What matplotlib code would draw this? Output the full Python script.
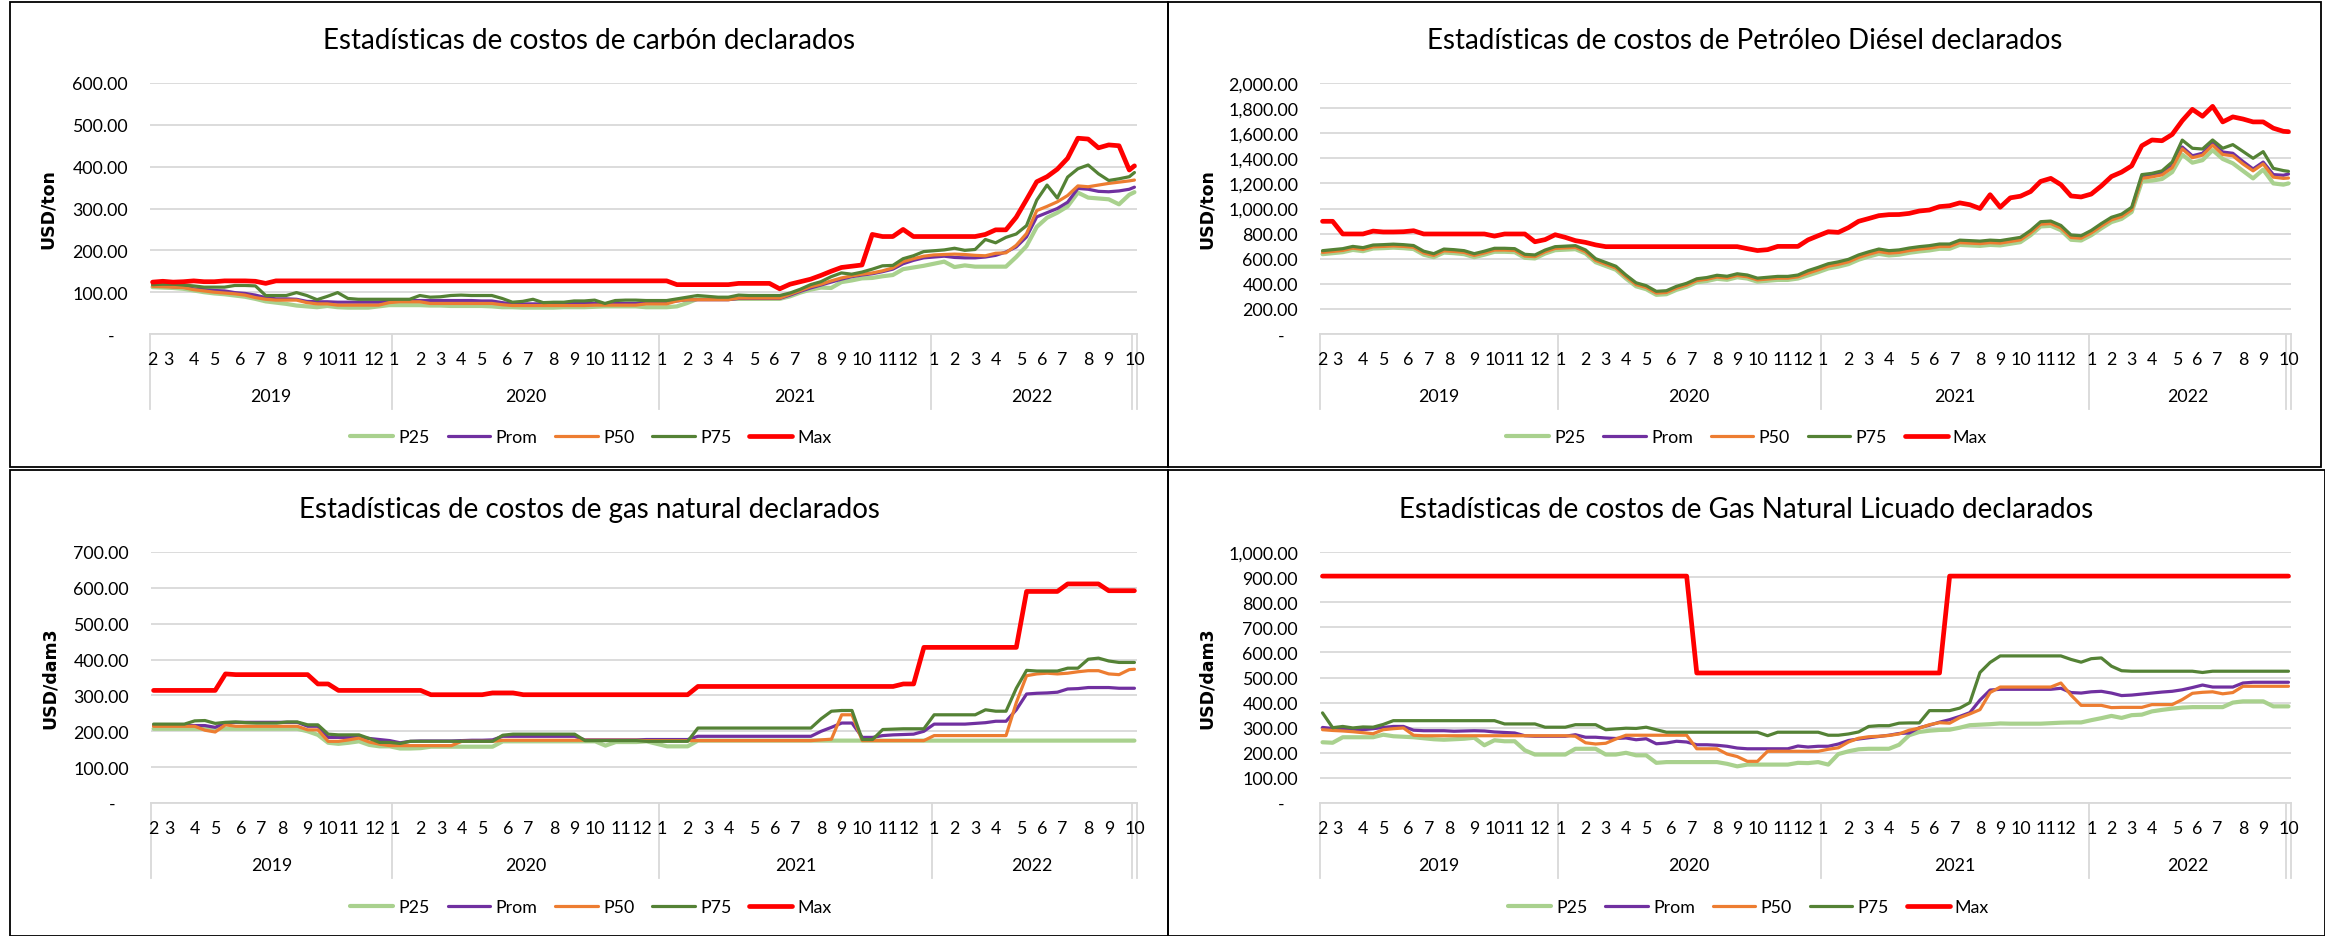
import numpy as np
import pandas as pd
import matplotlib
matplotlib.use("Agg")
import matplotlib.pyplot as plt
from matplotlib.patches import Rectangle
from matplotlib.ticker import FuncFormatter

plt.rcParams["font.family"] = ["Lato", "DejaVu Sans"]

# weekly reporting dates on the category axis (one per Friday)
DATES = pd.date_range("2019-02-08", "2022-10-07", freq="W-FRI")
# values every second week, plus the last week
SAMPLE = list(range(0, len(DATES), 2)) + [len(DATES) - 1]

SERIES = ["P25", "Prom", "P50", "P75", "Max"]
COLORS = {"P25": "#A9D18E", "Prom": "#7030A0", "P50": "#ED7D31",
          "P75": "#548235", "Max": "#FF0000"}
WIDTHS = {"P25": 3.0, "Prom": 2.3, "P50": 2.3, "P75": 2.3, "Max": 3.4}

# --- carbón (USD/ton)
COAL_P25 = [112, 111, 110, 108, 104, 100, 97, 95, 92, 89,
            84, 78, 75, 72, 68, 66, 64, 67, 64, 63,
            63, 63, 66, 69, 69, 69, 69, 68, 68, 67,
            67, 67, 67, 66, 64, 64, 63, 63, 63, 63,
            64, 64, 64, 65, 66, 66, 66, 66, 64, 64,
            64, 66, 74, 84, 84, 84, 84, 84, 84, 84,
            84, 84, 90, 99, 106, 111, 110, 124, 128, 133,
            134, 138, 141, 155, 159, 163, 168, 173, 160, 164,
            161, 161, 161, 161, 184, 210, 256, 278, 290, 305,
            338, 326, 324, 322, 310, 333, 339]
COAL_PROM = [116, 115, 113, 112, 108, 106, 104, 103, 99, 97,
             93, 87, 84, 84, 83, 78, 77, 77, 76, 76,
             76, 76, 76, 79, 80, 80, 80, 80, 80, 80,
             80, 80, 79, 79, 75, 72, 72, 72, 72, 72,
             73, 73, 73, 73, 72, 73, 73, 73, 76, 76,
             76, 79, 82, 82, 82, 82, 82, 85, 85, 85,
             85, 85, 93, 102, 110, 117, 124, 131, 137, 141,
             144, 149, 155, 168, 176, 182, 184, 186, 183, 182,
             182, 184, 188, 196, 208, 232, 280, 290, 300, 315,
             348, 346, 341, 340, 342, 346, 351]
COAL_P50 = [114, 113, 112, 111, 106, 103, 100, 98, 96, 93,
            87, 83, 81, 81, 81, 75, 72, 72, 69, 69,
            69, 69, 69, 75, 77, 77, 77, 73, 73, 73,
            73, 73, 73, 73, 70, 68, 68, 68, 68, 68,
            68, 68, 68, 69, 69, 69, 69, 69, 72, 72,
            72, 79, 82, 82, 82, 82, 82, 86, 86, 86,
            86, 86, 95, 104, 113, 119, 127, 134, 139, 143,
            146, 151, 158, 173, 180, 186, 189, 190, 191, 190,
            188, 187, 193, 194, 212, 240, 295, 305, 316, 331,
            354, 352, 356, 360, 363, 366, 368]
COAL_P75 = [118, 119, 119, 117, 115, 112, 112, 112, 116, 116,
            115, 92, 92, 92, 99, 92, 82, 90, 99, 85,
            83, 83, 83, 83, 83, 83, 92, 88, 89, 92,
            93, 92, 92, 92, 85, 76, 78, 83, 75, 76,
            76, 79, 79, 81, 73, 80, 81, 81, 80, 80,
            80, 84, 88, 92, 90, 88, 88, 93, 92, 92,
            92, 92, 98, 107, 118, 125, 137, 146, 143, 148,
            155, 163, 164, 180, 187, 197, 199, 201, 205, 200,
            202, 226, 218, 231, 239, 259, 320, 356, 325, 375,
            395, 404, 383, 367, 371, 376, 386]
COAL_MAX = [124, 126, 124, 125, 127, 125, 125, 127, 127, 127,
            126, 121, 127, 127, 127, 127, 127, 127, 127, 127,
            127, 127, 127, 127, 127, 127, 127, 127, 127, 127,
            127, 127, 127, 127, 127, 127, 127, 127, 127, 127,
            127, 127, 127, 127, 127, 127, 127, 127, 127, 127,
            127, 118, 118, 118, 118, 118, 118, 121, 121, 121,
            121, 108, 119, 125, 131, 140, 150, 159, 162, 165,
            238, 233, 233, 250, 233, 233, 233, 233, 233, 233,
            233, 238, 249, 249, 279, 321, 364, 376, 394, 420,
            468, 466, 445, 452, 450, 392, 402]

# --- petróleo diésel (USD/ton)
DIESEL_P25 = [636, 644, 652, 670, 660, 681, 684, 688, 684, 677,
              632, 612, 649, 644, 636, 612, 632, 655, 655, 652,
              607, 602, 641, 668, 672, 676, 642, 572, 542, 512,
              442, 380, 357, 312, 317, 352, 376, 412, 422, 440,
              432, 452, 442, 417, 424, 431, 431, 442, 467, 493,
              522, 537, 557, 592, 617, 639, 626, 632, 647, 658,
              666, 679, 679, 710, 706, 702, 710, 706, 719, 732,
              787, 857, 862, 827, 751, 745, 787, 842, 892, 917,
              972, 1215, 1222, 1235, 1290, 1430, 1365, 1385, 1465, 1395,
              1360, 1300, 1240, 1310, 1200, 1190, 1200]
DIESEL_PROM = [656, 664, 672, 690, 680, 701, 704, 708, 704, 697,
               652, 632, 669, 664, 656, 632, 652, 675, 675, 672,
               627, 622, 661, 688, 692, 696, 662, 592, 562, 532,
               462, 400, 377, 332, 337, 372, 396, 432, 442, 460,
               452, 472, 462, 437, 444, 451, 451, 462, 495, 521,
               550, 565, 585, 620, 645, 667, 654, 660, 675, 686,
               694, 707, 707, 738, 734, 730, 738, 734, 747, 760,
               815, 885, 890, 855, 779, 773, 815, 870, 920, 945,
               1000, 1250, 1262, 1280, 1340, 1490, 1420, 1440, 1520, 1450,
               1440, 1375, 1315, 1370, 1270, 1265, 1275]
DIESEL_P50 = [650, 658, 666, 684, 674, 695, 698, 702, 698, 691,
              646, 626, 663, 658, 650, 626, 646, 669, 669, 666,
              621, 616, 655, 682, 686, 690, 656, 586, 556, 526,
              456, 394, 371, 326, 331, 366, 390, 426, 436, 454,
              446, 466, 456, 431, 438, 445, 445, 456, 485, 511,
              540, 555, 575, 610, 635, 657, 644, 650, 665, 676,
              684, 697, 697, 728, 724, 720, 728, 724, 737, 750,
              805, 875, 880, 845, 769, 763, 805, 860, 910, 935,
              990, 1240, 1252, 1268, 1325, 1475, 1405, 1425, 1505, 1430,
              1420, 1355, 1300, 1355, 1250, 1240, 1243]
DIESEL_P75 = [664, 672, 680, 698, 688, 709, 712, 716, 712, 705,
              660, 640, 677, 672, 664, 640, 660, 683, 683, 680,
              635, 630, 669, 696, 700, 704, 670, 600, 570, 540,
              470, 408, 385, 340, 345, 380, 404, 440, 450, 468,
              460, 480, 470, 445, 452, 459, 459, 470, 505, 531,
              560, 575, 595, 630, 655, 677, 664, 670, 685, 696,
              704, 717, 717, 748, 744, 740, 748, 744, 757, 770,
              825, 895, 900, 865, 789, 783, 825, 880, 930, 955,
              1010, 1270, 1280, 1300, 1370, 1545, 1480, 1474, 1546, 1480,
              1509, 1455, 1400, 1453, 1320, 1302, 1296]
DIESEL_MAX = [898, 898, 797, 797, 797, 820, 813, 813, 815, 823,
              797, 797, 797, 797, 797, 797, 797, 780, 797, 797,
              797, 735, 752, 791, 770, 744, 730, 710, 696, 696,
              696, 696, 696, 696, 696, 696, 696, 696, 696, 696,
              696, 696, 680, 665, 672, 698, 698, 698, 750, 783,
              815, 810, 848, 898, 920, 943, 951, 952, 961, 980,
              988, 1015, 1022, 1045, 1030, 1000, 1110, 1010, 1085, 1098,
              1135, 1216, 1240, 1190, 1100, 1092, 1115, 1180, 1255, 1290,
              1340, 1500, 1546, 1540, 1590, 1700, 1790, 1735, 1814, 1690,
              1730, 1713, 1690, 1690, 1640, 1615, 1612]

# --- gas natural (USD/dam3)
GAS_P25 = [207, 207, 207, 207, 207, 207, 207, 207, 207, 207,
           207, 207, 207, 207, 207, 200, 190, 168, 165, 168,
           172, 162, 158, 158, 152, 152, 153, 157, 157, 157,
           157, 157, 157, 157, 172, 172, 172, 172, 172, 172,
           172, 172, 172, 172, 160, 170, 170, 170, 172, 165,
           158, 158, 158, 174, 174, 174, 174, 174, 174, 174,
           174, 174, 174, 174, 174, 174, 174, 174, 174, 174,
           174, 174, 174, 174, 174, 174, 174, 174, 174, 174,
           174, 174, 174, 174, 174, 174, 174, 174, 174, 174,
           174, 174, 174, 174, 174, 174, 174]
GAS_PROM = [216, 216, 216, 216, 216, 216, 211, 224, 225, 225,
            225, 225, 225, 225, 225, 214, 214, 183, 183, 183,
            183, 180, 177, 174, 168, 172, 173, 173, 173, 173,
            174, 175, 175, 176, 186, 186, 186, 186, 186, 186,
            186, 186, 176, 176, 176, 176, 176, 176, 177, 177,
            177, 177, 177, 186, 186, 186, 186, 186, 186, 186,
            186, 186, 186, 186, 186, 200, 211, 223, 223, 183,
            183, 188, 190, 191, 192, 200, 220, 220, 220, 220,
            222, 224, 228, 228, 260, 304, 306, 307, 309, 318,
            319, 322, 322, 322, 320, 320, 320]
GAS_P50 = [214, 214, 214, 214, 214, 203, 198, 218, 214, 214,
           214, 214, 214, 214, 214, 204, 204, 172, 172, 176,
           181, 170, 164, 160, 160, 160, 160, 160, 160, 160,
           172, 172, 172, 172, 175, 175, 175, 175, 175, 175,
           175, 175, 175, 175, 175, 175, 175, 175, 174, 174,
           174, 174, 174, 174, 174, 174, 174, 174, 174, 174,
           174, 174, 174, 174, 174, 176, 178, 246, 246, 174,
           174, 174, 174, 174, 174, 174, 188, 188, 188, 188,
           188, 188, 188, 188, 280, 355, 360, 362, 360, 362,
           366, 369, 369, 360, 358, 372, 373]
GAS_P75 = [220, 220, 220, 220, 229, 230, 222, 225, 226, 224,
           223, 223, 223, 226, 226, 218, 218, 192, 190, 190,
           190, 180, 169, 169, 166, 172, 172, 172, 172, 172,
           172, 172, 172, 172, 189, 192, 192, 192, 192, 192,
           192, 192, 174, 174, 174, 174, 174, 174, 172, 172,
           172, 172, 172, 209, 209, 209, 209, 209, 209, 209,
           209, 209, 209, 209, 209, 235, 256, 258, 258, 177,
           177, 205, 206, 207, 207, 207, 246, 246, 246, 246,
           246, 260, 256, 256, 320, 370, 368, 368, 368, 376,
           376, 401, 404, 396, 392, 392, 392]
GAS_MAX = [314, 314, 314, 314, 314, 314, 314, 360, 358, 358,
           358, 358, 358, 358, 358, 358, 332, 332, 314, 314,
           314, 314, 314, 314, 314, 314, 314, 302, 302, 302,
           302, 302, 302, 307, 307, 307, 302, 302, 302, 302,
           302, 302, 302, 302, 302, 302, 302, 302, 302, 302,
           302, 302, 302, 325, 325, 325, 325, 325, 325, 325,
           325, 325, 325, 325, 325, 325, 325, 325, 325, 325,
           325, 325, 325, 332, 332, 434, 434, 434, 434, 434,
           434, 434, 434, 434, 434, 590, 590, 590, 590, 611,
           611, 611, 611, 592, 592, 592, 592]

# --- gas natural licuado (USD/dam3)
LNG_P25 = [242, 240, 262, 262, 262, 262, 272, 266, 264, 262,
           258, 254, 252, 254, 256, 260, 230, 250, 246, 246,
           210, 193, 193, 193, 193, 216, 216, 216, 193, 193,
           200, 190, 190, 160, 163, 163, 163, 163, 163, 163,
           156, 146, 153, 153, 153, 153, 153, 160, 159, 163,
           153, 195, 206, 214, 216, 216, 216, 232, 270, 283,
           288, 291, 292, 300, 310, 312, 314, 317, 316, 316,
           316, 316, 318, 320, 321, 321, 330, 338, 347, 339,
           350, 352, 365, 371, 376, 380, 382, 382, 382, 382,
           400, 405, 405, 405, 385, 385, 385]
LNG_PROM = [301, 297, 295, 294, 292, 296, 301, 305, 305, 290,
            288, 288, 288, 286, 287, 288, 287, 283, 281, 279,
            268, 266, 266, 266, 266, 272, 262, 262, 259, 257,
            259, 252, 256, 236, 239, 246, 243, 232, 232, 230,
            226, 219, 216, 216, 216, 216, 216, 227, 223, 226,
            226, 235, 249, 255, 260, 265, 270, 277, 279, 300,
            310, 322, 332, 345, 360, 410, 450, 453, 453, 453,
            453, 453, 453, 457, 440, 438, 443, 445, 438, 428,
            430, 434, 438, 442, 445, 451, 460, 470, 462, 462,
            462, 478, 481, 481, 481, 481, 481]
LNG_P50 = [292, 289, 287, 284, 280, 276, 292, 296, 299, 270,
           268, 268, 268, 268, 268, 268, 268, 268, 268, 268,
           268, 268, 268, 268, 268, 266, 240, 235, 238, 255,
           270, 270, 270, 270, 270, 270, 270, 216, 216, 216,
           195, 185, 166, 166, 206, 206, 206, 206, 206, 206,
           214, 220, 243, 258, 264, 266, 269, 275, 290, 298,
           312, 320, 318, 340, 355, 372, 440, 462, 462, 462,
           462, 462, 462, 478, 430, 389, 389, 389, 380, 381,
           381, 381, 392, 392, 392, 412, 437, 441, 443, 435,
           440, 465, 465, 465, 465, 465, 465]
LNG_P75 = [359, 300, 305, 299, 303, 302, 313, 328, 328, 328,
           328, 328, 328, 328, 328, 328, 328, 328, 315, 315,
           315, 315, 302, 302, 302, 312, 312, 312, 292, 295,
           298, 297, 302, 292, 282, 282, 282, 282, 282, 282,
           282, 282, 282, 282, 268, 282, 282, 282, 282, 282,
           270, 270, 275, 283, 305, 308, 308, 318, 319, 319,
           368, 368, 368, 378, 400, 520, 560, 586, 586, 586,
           586, 586, 586, 586, 572, 561, 575, 578, 545, 527,
           525, 525, 525, 525, 525, 525, 525, 520, 525, 525,
           525, 525, 525, 525, 525, 525, 525]
LNG_MAX = [904, 904, 904, 904, 904, 904, 904, 904, 904, 904,
           904, 904, 904, 904, 904, 904, 904, 904, 904, 904,
           904, 904, 904, 904, 904, 904, 904, 904, 904, 904,
           904, 904, 904, 904, 904, 904, 904, 518, 518, 518,
           518, 518, 518, 518, 518, 518, 518, 518, 518, 518,
           518, 518, 518, 518, 518, 518, 518, 518, 518, 518,
           518, 518, 904, 904, 904, 904, 904, 904, 904, 904,
           904, 904, 904, 904, 904, 904, 904, 904, 904, 904,
           904, 904, 904, 904, 904, 904, 904, 904, 904, 904,
           904, 904, 904, 904, 904, 904, 904]

W, H = 2325, 937
fig = plt.figure(figsize=(W / 100, H / 100), dpi=100)


def fx(x):
    return x / W


def fy(y):
    return 1 - y / H


def money(v, pos):
    # Excel accounting format: zero shows as a dash
    if v == 0:
        return "-   "
    return f"{v:,.2f}"


n = len(DATES)
months = DATES.month
years = DATES.year
month_starts = [i for i in range(n) if i == 0 or months[i] != months[i - 1]]
year_starts = [i for i in range(n) if i == 0 or years[i] != years[i - 1]]
# the sheet's last row sits in its own (unlabelled) group
bounds = year_starts + [n - 1, n]


def panel(box, plot, title, title_y, unit, unit_x, legend_y, ymax, step, data):
    x0, y0, x1, y1 = box
    fig.add_artist(Rectangle((fx(x0), fy(y1)), fx(x1) - fx(x0), fy(y0) - fy(y1),
                             fill=False, ec="black", lw=1.3,
                             transform=fig.transFigure))
    px0, py0, px1, py1 = plot
    h = py1 - py0
    ax = fig.add_axes([fx(px0), fy(py1), fx(px1) - fx(px0), fy(py0) - fy(py1)])
    for name, vals in zip(SERIES, data):
        ax.plot(SAMPLE, vals, color=COLORS[name], lw=WIDTHS[name], label=name,
                solid_joinstyle="round", solid_capstyle="round")

    xt = ax.get_xaxis_transform()
    for i in month_starts:
        ax.text(i, -25 / h, str(months[i]), transform=xt, ha="center",
                va="center", fontsize=12.8)
    for k in range(len(year_starts)):
        a, b = bounds[k], bounds[k + 1]
        ax.text((a + b) / 2 - 0.5, -62.5 / h, str(years[a]), transform=xt,
                ha="center", va="center", fontsize=12.8)
    for b in bounds:
        ax.plot([b - 0.5, b - 0.5], [0, -75 / h], transform=xt,
                color="#D9D9D9", lw=1.3, clip_on=False)

    ax.set_xlim(-0.5, n - 0.5)
    ax.set_ylim(0, ymax)
    ax.set_yticks(np.arange(0, ymax + step / 2, step))
    ax.yaxis.set_major_formatter(FuncFormatter(money))
    ax.set_xticks([])
    ax.tick_params(axis="y", length=0, pad=15.8, labelsize=12.8)
    ax.grid(axis="y", color="#D9D9D9", lw=1.3)
    ax.set_axisbelow(True)
    for s in ["top", "right", "left"]:
        ax.spines[s].set_visible(False)
    ax.spines["bottom"].set_color("#D9D9D9")
    ax.spines["bottom"].set_linewidth(1.3)

    cx = (x0 + x1) / 2
    fig.text(fx(cx), fy(title_y), title, ha="center", va="center", fontsize=20)
    fig.text(fx(unit_x), fy((py0 + py1) / 2), unit, rotation=90, ha="center",
             va="center", fontsize=12.5, family="DejaVu Sans", weight="bold")
    handles, labels = ax.get_legend_handles_labels()
    fig.legend(handles, labels, loc="center",
               bbox_to_anchor=(fx(cx + 2), fy(legend_y)), ncol=5,
               frameon=False, fontsize=12.8, handlelength=2.4,
               handletextpad=0.3, columnspacing=1.0, borderpad=0,
               borderaxespad=0)


panel((10, 3, 1168, 468), (150, 84, 1137, 335),
      "Estadísticas de costos de carbón declarados", 41, "USD/ton", 48, 438,
      600, 100, [COAL_P25, COAL_PROM, COAL_P50, COAL_P75, COAL_MAX])
panel((1168, 3, 2321, 468), (1320, 84, 2291, 335),
      "Estadísticas de costos de Petróleo Diésel declarados", 41, "USD/ton",
      1207, 438, 2000, 200,
      [DIESEL_P25, DIESEL_PROM, DIESEL_P50, DIESEL_P75, DIESEL_MAX])
panel((10, 471, 1168, 937), (151, 553, 1137, 804),
      "Estadísticas de costos de gas natural declarados", 510, "USD/dam3", 50,
      908, 700, 100, [GAS_P25, GAS_PROM, GAS_P50, GAS_P75, GAS_MAX])
panel((1168, 471, 2325, 937), (1320, 553, 2291, 804),
      "Estadísticas de costos de Gas Natural Licuado declarados", 510,
      "USD/dam3", 1207, 908, 1000, 100,
      [LNG_P25, LNG_PROM, LNG_P50, LNG_P75, LNG_MAX])

fig.savefig("out.png", dpi=100)
